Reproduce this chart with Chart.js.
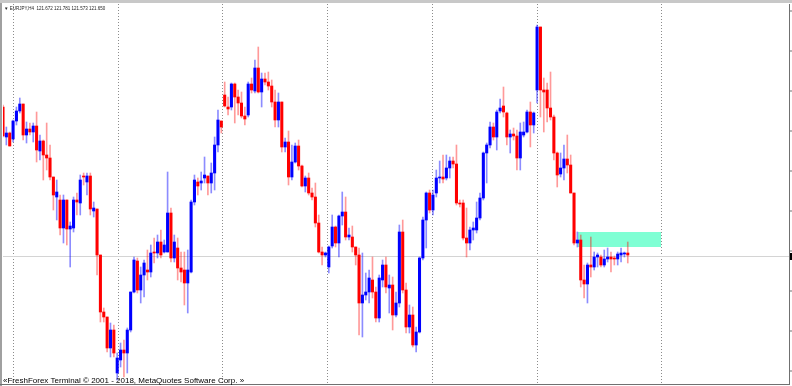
<!DOCTYPE html>
<html><head><meta charset="utf-8">
<script src="https://cdn.jsdelivr.net/npm/chart.js@4.4.1/dist/chart.umd.min.js"></script>
<style>html,body{margin:0;padding:0;background:#fff;overflow:hidden}canvas{display:block}</style>
</head><body>
<canvas id="c" width="792" height="386"></canvas>
<script>
// ---- data (EURJPY, H4 bars, oldest first) ----
const symbolLabel = 'EURJPY,H4';
const headerValues = ['121.672', '121.781', '121.573', '121.650'];
const opens = [123.13,122.83,122.87,122.81,122.99,123.09,123.16,122.85,122.91,122.88,122.94,122.69,122.79,122.65,122.62,122.43,122.23,122.20,121.92,122.20,121.91,121.92,122.20,122.17,122.44,122.38,122.44,122.09,122.11,121.65,121.08,121.03,120.72,120.90,120.47,120.60,120.70,120.67,120.90,121.28,121.59,121.30,121.45,121.50,121.48,121.68,121.67,121.78,121.68,121.68,122.07,121.62,121.72,121.52,121.50,121.37,121.48,122.18,122.38,122.37,122.42,122.44,122.37,122.47,122.75,122.99,123.25,123.13,123.13,123.36,123.23,123.17,123.04,123.05,123.36,123.29,123.52,123.28,123.41,123.38,123.34,123.18,123.00,123.18,122.73,122.78,122.43,122.58,122.74,122.54,122.34,122.42,122.27,122.23,121.97,121.68,121.65,121.53,121.74,121.93,121.77,122.04,122.08,121.83,121.83,121.73,121.65,121.17,121.25,121.28,121.40,121.28,121.02,121.40,121.55,121.32,121.35,121.05,121.17,121.88,121.30,120.93,121.05,120.75,120.88,121.62,122.00,122.27,122.10,122.27,122.42,122.43,122.42,122.52,122.59,122.56,122.17,122.17,121.82,121.77,121.90,121.90,122.02,122.22,122.67,122.75,122.93,122.83,123.09,123.14,123.07,122.83,122.86,122.84,122.62,122.85,122.88,123.08,122.95,123.30,123.93,123.30,123.30,123.12,123.03,122.67,122.46,122.52,122.61,122.55,122.27,121.77,121.80,121.40,121.36,121.55,121.53,121.63,121.63,121.55,121.61,121.63,121.62,121.61,121.65,121.66,121.67];
const highs = [123.15,122.93,122.88,123.00,123.13,123.22,123.16,122.98,122.97,122.97,123.08,122.85,122.80,122.97,122.75,122.43,122.40,122.25,122.25,122.20,121.98,122.23,122.27,122.45,122.47,122.47,122.47,122.18,122.11,121.65,121.12,121.03,120.97,120.95,120.67,120.77,120.80,120.92,121.28,121.63,121.62,121.53,121.60,121.70,121.75,121.82,121.85,121.90,121.80,122.48,122.12,121.85,121.82,121.68,121.68,121.70,122.20,122.45,122.42,122.48,122.63,122.44,122.57,122.83,123.10,122.99,123.38,123.23,123.37,123.37,123.30,123.28,123.13,123.38,123.42,123.60,123.73,123.47,123.47,123.48,123.40,123.30,123.27,123.18,122.82,122.89,122.75,122.77,122.80,122.55,122.44,122.47,122.32,122.37,122.05,121.73,121.68,121.74,122.05,121.94,122.05,122.28,122.23,121.92,121.94,121.73,121.72,121.67,121.47,121.50,121.63,121.33,121.45,121.60,121.63,121.45,121.43,121.28,121.95,122.00,121.37,121.15,121.13,120.93,121.63,122.03,122.28,122.30,122.30,122.50,122.59,122.65,122.65,122.63,122.63,122.75,122.20,122.20,122.12,121.93,121.98,122.18,122.27,122.68,122.77,122.98,122.97,123.10,123.21,123.33,123.08,122.90,122.92,122.90,122.97,122.98,123.10,123.18,123.08,123.95,123.93,123.42,123.37,123.48,123.05,122.68,122.67,122.75,122.85,122.65,122.27,121.88,121.85,121.55,121.57,121.83,121.68,121.67,121.65,121.70,121.72,121.68,121.64,121.68,121.72,121.68,121.78];
const lows = [122.83,122.75,122.74,122.78,122.95,123.07,122.80,122.77,122.85,122.78,122.58,122.60,122.40,122.50,122.40,122.10,122.00,121.85,121.77,121.75,121.53,121.88,122.05,122.05,122.35,122.25,122.05,122.03,121.45,120.98,120.98,120.68,120.63,120.63,120.40,120.53,120.43,120.47,120.88,121.27,121.27,121.17,121.23,121.40,121.43,121.57,121.62,121.62,121.67,121.68,121.58,121.58,121.40,121.38,121.15,121.07,121.47,122.15,122.25,122.30,122.37,122.25,122.27,122.30,122.68,122.87,123.13,123.05,123.10,122.97,123.05,123.02,122.95,123.03,123.27,123.27,123.27,123.13,123.35,123.30,123.13,122.93,122.93,122.68,122.68,122.35,122.40,122.57,122.50,122.33,122.28,122.25,122.20,121.93,121.67,121.55,121.63,121.47,121.72,121.73,121.63,121.95,121.80,121.80,121.68,121.55,120.85,120.83,121.20,121.17,121.22,120.98,120.98,121.33,121.27,121.07,120.90,121.03,121.13,121.27,120.87,120.87,120.73,120.68,120.87,121.60,121.72,122.07,122.05,122.23,122.37,122.37,122.40,122.42,122.52,122.15,122.13,121.80,121.63,121.70,121.80,121.87,122.00,122.20,122.37,122.72,122.80,122.70,123.07,123.03,122.75,122.67,122.80,122.50,122.50,122.83,122.87,122.73,122.87,123.17,123.03,122.88,122.98,123.00,122.60,122.33,122.43,122.40,122.47,122.27,121.75,121.73,121.33,121.22,121.17,121.43,121.50,121.53,121.53,121.53,121.58,121.48,121.55,121.55,121.58,121.63,121.57];
const closes = [122.84,122.87,122.74,122.99,123.09,123.16,122.85,122.91,122.88,122.94,122.70,122.79,122.65,122.62,122.43,122.25,122.28,121.92,122.20,121.91,121.94,122.20,122.18,122.40,122.43,122.44,122.11,122.12,121.65,121.08,121.03,120.72,120.90,120.67,120.62,120.70,120.67,120.90,121.28,121.60,121.30,121.45,121.57,121.48,121.67,121.67,121.78,121.65,121.75,122.07,121.62,121.78,121.52,121.48,121.37,121.50,122.18,122.40,122.34,122.39,122.45,122.37,122.47,122.75,123.00,122.93,123.14,123.11,123.36,123.23,123.17,123.04,123.01,123.36,123.30,123.52,123.28,123.41,123.38,123.34,123.18,123.00,123.18,122.73,122.78,122.43,122.58,122.74,122.54,122.34,122.42,122.27,122.23,121.97,121.68,121.65,121.67,121.73,121.93,121.77,122.04,122.08,121.83,121.85,121.73,121.65,121.17,121.25,121.28,121.42,121.28,121.02,121.42,121.55,121.33,121.35,121.05,121.17,121.88,121.30,120.93,121.05,120.75,120.88,121.62,122.00,122.27,122.10,122.25,122.42,122.43,122.41,122.52,122.59,122.56,122.17,122.16,121.82,121.77,121.90,121.92,122.02,122.22,122.67,122.75,122.93,122.83,123.08,123.12,123.08,122.83,122.86,122.84,122.62,122.88,122.88,123.08,122.95,123.07,123.93,123.30,123.28,123.12,123.03,122.67,122.45,122.52,122.61,122.55,122.27,121.77,121.80,121.40,121.36,121.55,121.53,121.63,121.65,121.55,121.61,121.63,121.61,121.61,121.66,121.67,121.67,121.65];
// period separators, in bar units
const separators = [2.98, 34.24, 65.2, 96.46, 127.7, 158.97, 195.9];
const bidPrice = 121.645;
const zoneStart = 171.2, zoneEnd = 195.9, zoneHigh = 121.88, zoneLow = 121.73;
const copyright = '\u00ABFreshForex Terminal \u00A9 2001 - 2018, MetaQuotes Software Corp. \u00BB';

const idx = opens.map((_, i) => i);
const isUp = idx.map(i => closes[i] >= opens[i]);

const overlay = {
  id: 'overlay',
  beforeDatasetsDraw(chart) {
    const {ctx, chartArea: a, scales: {x, y}} = chart;
    ctx.save();
    ctx.fillStyle = '#7fffd4';
    const zx0 = x.getPixelForValue(zoneStart), zx1 = x.getPixelForValue(zoneEnd);
    const zy0 = y.getPixelForValue(zoneHigh), zy1 = y.getPixelForValue(zoneLow);
    ctx.fillRect(zx0, zy0, zx1 - zx0, zy1 - zy0);
    ctx.strokeStyle = '#8c8c8c';
    ctx.lineWidth = 1;
    ctx.setLineDash([1, 2]);
    separators.forEach(s => {
      const px = Math.round(x.getPixelForValue(s)) + 0.5;
      ctx.beginPath(); ctx.moveTo(px, a.top); ctx.lineTo(px, a.bottom); ctx.stroke();
    });
    ctx.setLineDash([]);
    ctx.strokeStyle = '#d4d4d4';
    const by = Math.round(y.getPixelForValue(bidPrice)) + 0.5;
    ctx.beginPath(); ctx.moveTo(a.left, by); ctx.lineTo(a.right, by); ctx.stroke();
    ctx.restore();
  },
  afterDraw(chart) {
    const {ctx, chartArea: a, scales: {y}} = chart;
    const W = chart.width, H = chart.height;
    ctx.save();
    ctx.fillStyle = '#a0a0a0';
    ctx.fillRect(0, 0, 2, H);
    ctx.fillStyle = '#c8c8c8';
    ctx.fillRect(0, 0, W, 3);
    ctx.fillStyle = '#707070';
    ctx.fillRect(Math.round(a.right), a.top, 1, a.bottom - a.top + 1);
    ctx.fillRect(0, Math.round(a.bottom), Math.round(a.right), 1);
    for (let p = 124.1; p > 120.4; p -= 0.4) {
      const ty = Math.round(y.getPixelForValue(p)) + 0.5;
      ctx.fillRect(Math.round(a.right) + 1, ty, 2, 1);
    }
    ctx.fillStyle = '#000';
    const by = Math.round(y.getPixelForValue(bidPrice));
    ctx.fillRect(Math.round(a.right) + 1, by - 3, W - a.right, 7);
    ctx.fillStyle = '#222';
    ctx.font = '4.5px "Liberation Sans", Arial, sans-serif';
    ctx.textBaseline = 'alphabetic';
    ctx.fillText('\u25BC ' + symbolLabel + '  ' + headerValues.join(' '), 4, 10);
    ctx.fillStyle = '#000';
    ctx.font = '8px "Liberation Sans", Arial, sans-serif';
    ctx.fillText(copyright, 3, 383);
    ctx.restore();
  }
};

new Chart(document.getElementById('c'), {
  type: 'bar',
  data: {
    datasets: [
      {
        label: 'body',
        data: idx.map(i => ({x: i, y: [opens[i], closes[i]]})),
        backgroundColor: isUp.map(u => u ? '#0000ff' : '#ff0000'),
        barThickness: 2.4, minBarLength: 1, grouped: false, borderWidth: 0
      },
      {
        label: 'wick',
        data: idx.map(i => ({x: i, y: [lows[i], highs[i]]})),
        backgroundColor: isUp.map(u => u ? 'rgba(0,0,255,0.45)' : 'rgba(255,0,0,0.4)'),
        barThickness: 1, grouped: false, borderWidth: 0
      }
    ]
  },
  options: {
    responsive: false, animation: false, devicePixelRatio: 1,
    layout: {padding: {left: 3, right: 3, top: 4, bottom: 2}},
    plugins: {legend: {display: false}, tooltip: {enabled: false}},
    scales: {
      x: {type: 'linear', display: false, min: 0, max: 234, offset: false},
      y: {display: false, min: 120.36, max: 124.16}
    }
  },
  plugins: [overlay]
});
</script>
</body></html>
